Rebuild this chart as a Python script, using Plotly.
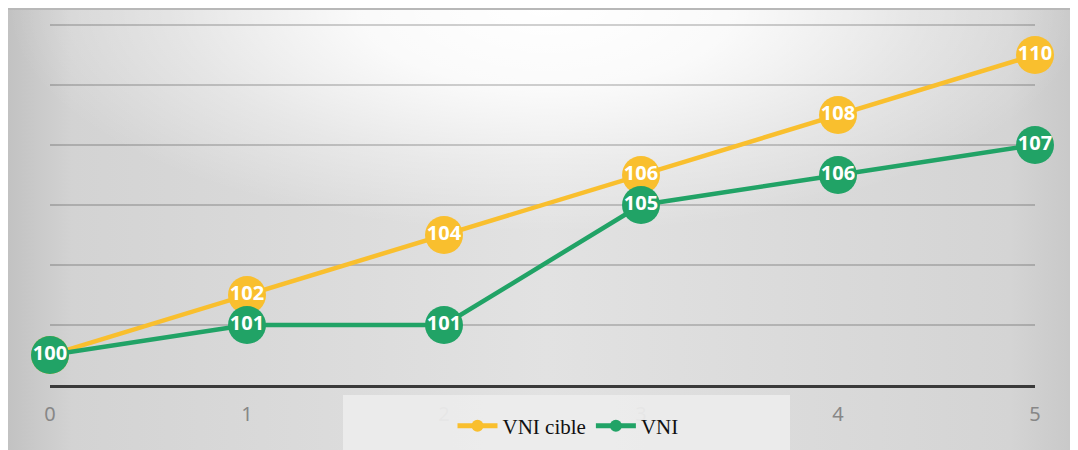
import base64
import plotly.graph_objects as go

x_vals = [0, 1, 2, 3, 4, 5]
vni_cible = [100, 102, 104, 106, 108, 110]
vni = [100, 101, 101, 105, 106, 107]
series_names = ["VNI cible", "VNI"]
grid_vals = [99, 101, 103, 105, 107, 109, 111]

YELLOW = "#F9BF2E"
GREEN = "#21A366"

svg = """<svg xmlns='http://www.w3.org/2000/svg' width='1078' height='450' preserveAspectRatio='none' viewBox='0 0 1078 450'>
<defs>
<linearGradient id='h' x1='0' y1='0' x2='1' y2='0'>
<stop offset='0' stop-color='#c2c2c2'/>
<stop offset='0.06' stop-color='#d3d3d3'/>
<stop offset='0.5' stop-color='#e2e2e2'/>
<stop offset='0.93' stop-color='#d4d4d4'/>
<stop offset='1' stop-color='#c6c6c6'/>
</linearGradient>
<radialGradient id='g' cx='0.5' cy='0.0' r='0.5' fx='0.5' fy='0.0'>
<stop offset='0' stop-color='#ffffff' stop-opacity='1'/>
<stop offset='0.35' stop-color='#ffffff' stop-opacity='0.85'/>
<stop offset='0.7' stop-color='#ffffff' stop-opacity='0.35'/>
<stop offset='1' stop-color='#ffffff' stop-opacity='0'/>
</radialGradient>
</defs>
<rect width='1078' height='450' fill='url(#h)'/>
<rect width='1078' height='450' fill='url(#g)'/>
<rect width='1078' height='2' fill='#b8b8b8'/>
</svg>"""
src = "data:image/svg+xml;base64," + base64.b64encode(svg.encode()).decode()

fig = go.Figure()
for name, vals, col in [(series_names[0], vni_cible, YELLOW), (series_names[1], vni, GREEN)]:
    fig.add_trace(go.Scatter(
        x=x_vals, y=vals, name=name, mode="lines+markers+text",
        line=dict(color=col, width=4.5),
        marker=dict(color=col, size=38, line=dict(width=0)),
        text=[str(v) for v in vals], textposition="middle center",
        textfont=dict(family="Open Sans", size=20, color="white", weight="bold"),
        cliponaxis=False,
    ))

# page body adds an 8px offset; figure pixel = screen pixel - 8
L, R, T, B = 42, 51, 2, 73
W, H = 1078, 450
pw, ph = W - L - R, H - T - B

fig.add_layout_image(dict(
    source=src, xref="paper", yref="paper",
    x=-L / pw, y=1 + T / ph,
    sizex=W / pw, sizey=H / ph,
    sizing="stretch", xanchor="left", yanchor="top", layer="below",
))

# legend backdrop box
fig.add_shape(type="rect", xref="paper", yref="paper",
              x0=(335 - L) / pw, x1=(782 - L) / pw,
              y0=(H - B - 452) / ph, y1=(H - B - 387) / ph,
              fillcolor="#ececec", opacity=0.94, line=dict(width=0), layer="above")

fig.update_layout(
    width=W, height=H,
    margin=dict(l=L, r=R, t=T, b=B, autoexpand=False),
    paper_bgcolor="white", plot_bgcolor="rgba(0,0,0,0)",
    showlegend=True,
    legend=dict(orientation="h", x=(560 - L) / pw, xanchor="center", y=(H - B - 418) / ph, yanchor="middle",
                bgcolor="rgba(0,0,0,0)", itemsizing="constant",
                font=dict(family="Liberation Serif", size=21, color="#111111"),
                itemwidth=40, tracegroupgap=0),
    xaxis=dict(range=[0, 5], tickvals=x_vals, ticktext=[str(v) for v in x_vals],
               showgrid=False, zeroline=False,
               showline=True, linecolor="#3a3a3a", linewidth=3,
               ticks="", ticklabelstandoff=9,
               tickfont=dict(family="Noto Sans", size=20, color="#878787")),
    yaxis=dict(range=[99, 111.5], tickvals=grid_vals, showticklabels=False,
               showgrid=True, gridcolor="rgba(0,0,0,0.18)", gridwidth=2, zeroline=False,
               showline=False),
)

fig.write_html("out.html")
